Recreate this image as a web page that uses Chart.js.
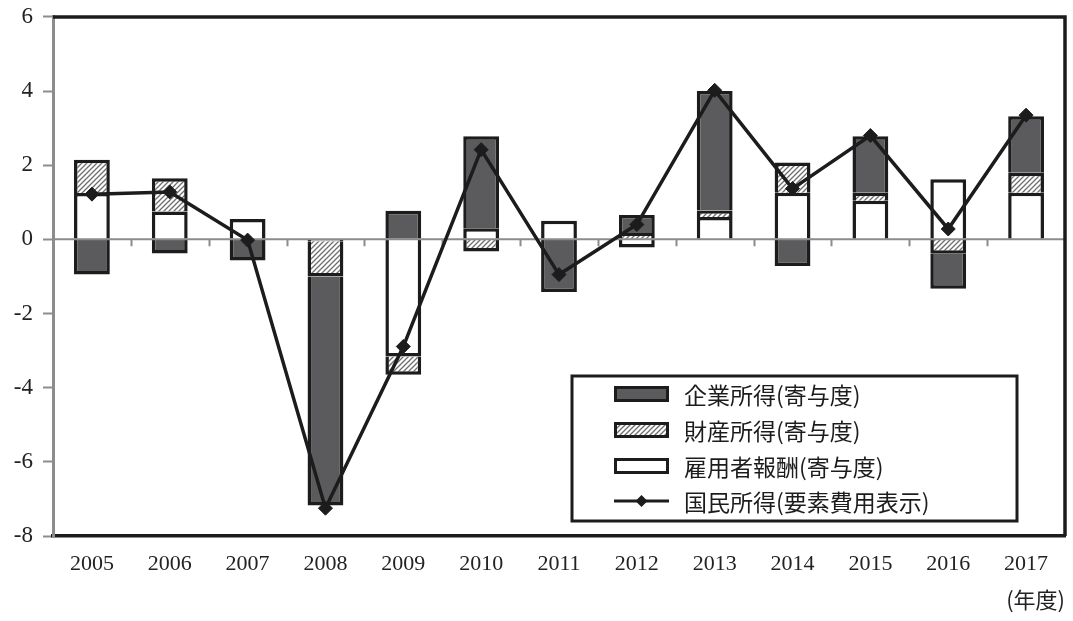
<!DOCTYPE html>
<html lang="ja">
<head>
<meta charset="utf-8">
<script src="https://cdn.jsdelivr.net/npm/chart.js@4.4.1/dist/chart.umd.min.js"></script>
<style>
  html, body { margin: 0; padding: 0; background: #fff; }
</style>
</head>
<body>
<canvas id="income-chart" width="1073" height="621"></canvas>
<script>
let years = ['2005', '2006', '2007', '2008', '2009', '2010', '2011',
             '2012', '2013', '2014', '2015', '2016', '2017'];

// 寄与度 (%pt)
let koyousha = [1.25, 0.75, 0.55, -0.05, -3.16, 0.30, 0.50, -0.22, 0.60, 1.26, 1.04, 1.62, 1.26];
let zaisan   = [0.90, 0.90, null, -0.95, -0.49, -0.33, null, 0.17, 0.18, 0.81, 0.22, -0.39, 0.54];
let kigyou   = [-0.95, -0.38, -0.57, -6.18, 0.77, 2.48, -1.42, 0.49, 3.22, -0.72, 1.52, -0.94, 1.52];
let kokumin  = [1.22, 1.28, -0.02, -7.25, -2.89, 2.42, -0.95, 0.40, 4.02, 1.37, 2.80, 0.28, 3.35];

let yMin = -8, yMax = 6, yStep = 2;

let legendNames = ['企業所得(寄与度)', '財産所得(寄与度)', '雇用者報酬(寄与度)', '国民所得(要素費用表示)'];

const INK = '#1c1c1c';
const DARK = '#5b5b5d';
const GREY = '#8c8c8c';
const SERIF = '"Liberation Serif", "DejaVu Serif", serif';
const JP = '"Noto Sans CJK JP", "Noto Sans", sans-serif';

function hatchPattern() {
  let c = document.createElement('canvas');
  c.width = 5; c.height = 5;
  let g = c.getContext('2d');
  g.fillStyle = '#fff';
  g.fillRect(0, 0, 5, 5);
  g.strokeStyle = '#6e6e6e';
  g.lineWidth = 1.3;
  g.beginPath();
  g.moveTo(-1, 6); g.lineTo(6, -1);
  g.moveTo(-1, 1); g.lineTo(1, -1);
  g.moveTo(4, 6); g.lineTo(6, 4);
  g.stroke();
  return g.createPattern(c, 'repeat');
}
let hatch = hatchPattern();

let barStyle = {
  type: 'bar',
  order: 1,
  borderColor: INK,
  borderWidth: 3.5,
  borderSkipped: 'start',
  barPercentage: 0.46,
  categoryPercentage: 1.0,
  stack: 'kiyodo'
};

// zero line goes over the bars but under the line series
let zeroLine = {
  id: 'zeroLine',
  afterDatasetDraw(chart, args) {
    if (args.index !== 0) return;
    let ctx = chart.ctx, a = chart.chartArea;
    let x = chart.scales.x, y0 = chart.scales.y.getPixelForValue(0);
    ctx.save();
    ctx.strokeStyle = GREY;
    ctx.lineWidth = 2;
    ctx.beginPath();
    ctx.moveTo(a.left, y0);
    ctx.lineTo(a.right, y0);
    for (let i = 1; i < years.length; i++) {
      let bx = Math.round((x.getPixelForValue(i - 1) + x.getPixelForValue(i)) / 2) + 0.5;
      ctx.moveTo(bx, y0);
      ctx.lineTo(bx, y0 + 7);
    }
    ctx.stroke();
    ctx.restore();
  }
};

let frame = {
  id: 'frame',
  afterDatasetsDraw(chart) {
    let ctx = chart.ctx, a = chart.chartArea;
    ctx.save();
    ctx.strokeStyle = INK;
    ctx.lineWidth = 3.5;
    ctx.beginPath();
    ctx.moveTo(a.left, a.top);
    ctx.lineTo(a.right, a.top);
    ctx.lineTo(a.right, a.bottom);
    ctx.stroke();
    ctx.restore();
  }
};

let boxLegend = {
  id: 'boxLegend',
  afterDraw(chart) {
    let ctx = chart.ctx;
    let bx = 572, by = 376, bw = 445, bh = 145;
    ctx.save();
    ctx.fillStyle = '#fff';
    ctx.fillRect(bx, by, bw, bh);
    ctx.strokeStyle = INK;
    ctx.lineWidth = 3;
    ctx.strokeRect(bx, by, bw, bh);

    let fills = [DARK, hatch, '#fff'];
    let rows = [394, 430, 466, 501];
    let sx = 614, sw = 55, sh = 16;
    for (let i = 0; i < 3; i++) {
      ctx.fillStyle = fills[i];
      ctx.fillRect(sx, rows[i] - sh / 2, sw, sh);
      ctx.strokeStyle = INK;
      ctx.lineWidth = 3;
      ctx.strokeRect(sx + 1.5, rows[i] - sh / 2 + 1.5, sw - 3, sh - 3);
    }
    ctx.strokeStyle = INK;
    ctx.lineWidth = 3;
    ctx.beginPath();
    ctx.moveTo(sx, rows[3]);
    ctx.lineTo(sx + sw, rows[3]);
    ctx.stroke();
    ctx.fillStyle = INK;
    let cx = sx + sw / 2, r = 6;
    ctx.beginPath();
    ctx.moveTo(cx, rows[3] - r);
    ctx.lineTo(cx + r, rows[3]);
    ctx.lineTo(cx, rows[3] + r);
    ctx.lineTo(cx - r, rows[3]);
    ctx.closePath();
    ctx.fill();

    ctx.font = '23px ' + JP;
    ctx.textBaseline = 'middle';
    ctx.fillStyle = INK;
    legendNames.forEach((t, i) => ctx.fillText(t, 684, rows[i] + 1));
    ctx.restore();
  }
};

new Chart(document.getElementById('income-chart'), {
  data: {
    labels: years,
    datasets: [
      Object.assign({ label: legendNames[2], data: koyousha, backgroundColor: '#fff' }, barStyle),
      Object.assign({ label: legendNames[1], data: zaisan, backgroundColor: hatch }, barStyle),
      Object.assign({ label: legendNames[0], data: kigyou, backgroundColor: DARK }, barStyle),
      {
        type: 'line',
        label: legendNames[3],
        data: kokumin,
        order: 0,
        borderColor: INK,
        borderWidth: 3.5,
        pointStyle: 'rectRot',
        pointRadius: 7,
        pointBackgroundColor: INK,
        pointBorderColor: INK,
        pointBorderWidth: 1,
        tension: 0
      }
    ]
  },
  options: {
    responsive: false,
    animation: false,
    layout: { padding: { top: 16, right: 4, left: 0, bottom: 0 } },
    plugins: {
      legend: { display: false },
      tooltip: { enabled: false }
    },
    scales: {
      x: {
        stacked: true,
        grid: { display: false },
        border: { display: true, color: INK, width: 3.5 },
        ticks: { color: '#222', font: { family: SERIF, size: 22 }, padding: 7, maxRotation: 0 },
        title: {
          display: true,
          text: '(年度)',
          align: 'end',
          color: '#222',
          font: { family: JP, size: 22 },
          padding: { top: 0, bottom: 8 }
        },
        afterFit(s) { s.height = 85; }
      },
      y: {
        stacked: true,
        min: yMin,
        max: yMax,
        ticks: { stepSize: yStep, color: '#222', font: { family: SERIF, size: 23, lineHeight: 0.6 }, padding: 10 },
        grid: { drawOnChartArea: false, drawTicks: true, tickLength: 10, tickColor: GREY, tickWidth: 2 },
        border: { color: GREY, width: 3 },
        afterFit(s) { s.width = 53; }
      }
    }
  },
  plugins: [zeroLine, frame, boxLegend]
});
</script>
</body>
</html>
